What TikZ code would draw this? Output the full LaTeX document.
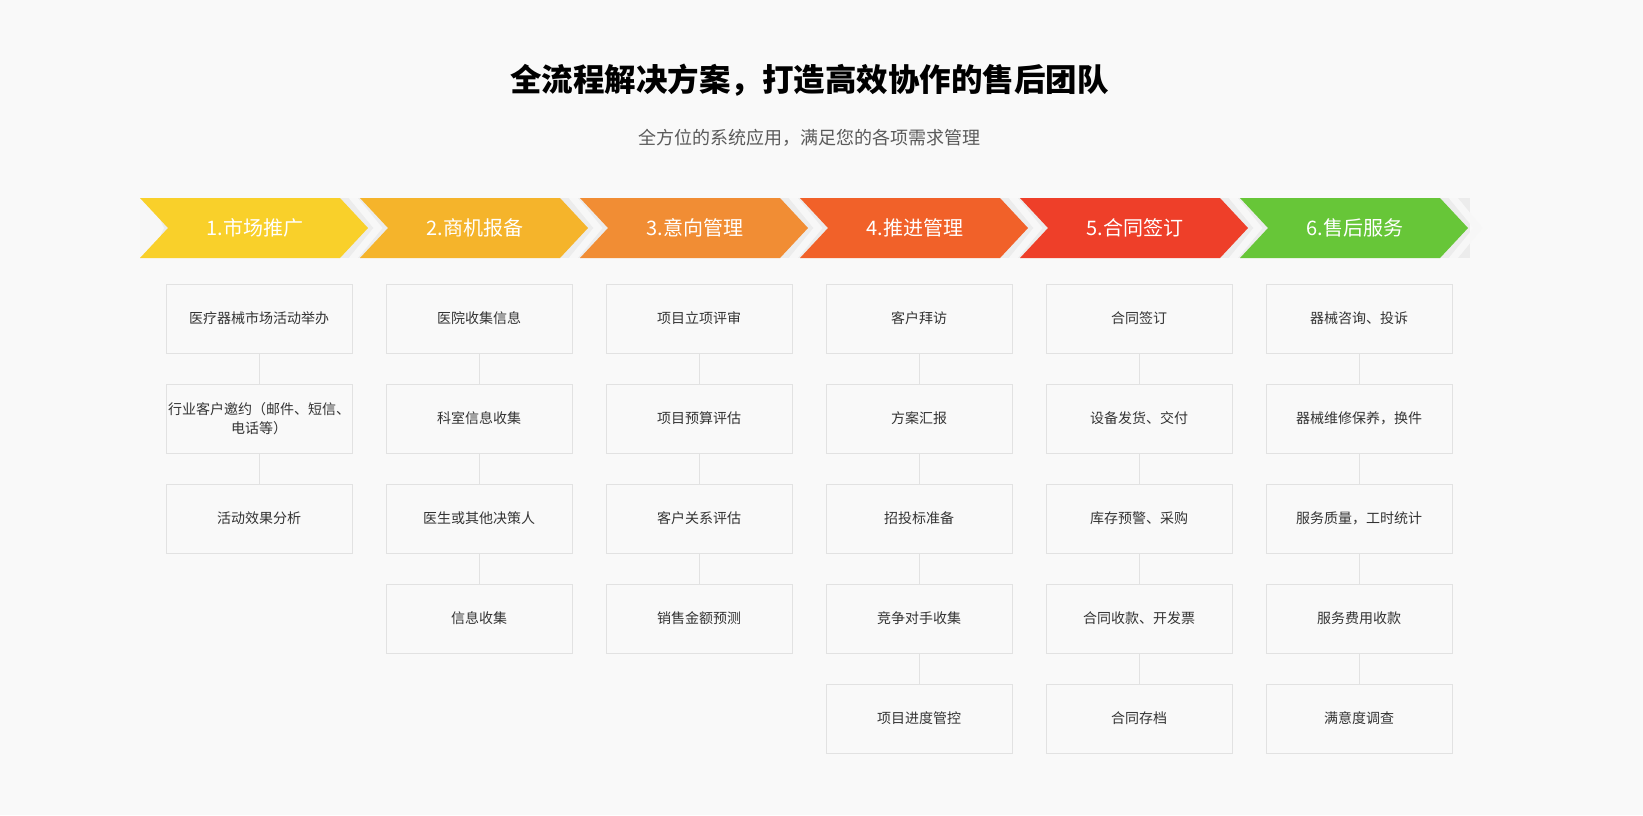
\documentclass[tikz,border=0pt]{standalone}
\usepackage{fontspec}
\setmainfont{Noto Sans CJK SC}
\definecolor{bgc}{HTML}{F9F9F9}
\definecolor{stripc}{HTML}{ECECEC}
\definecolor{stripl}{HTML}{F7F7F7}
\definecolor{c1}{HTML}{F9D02A}
\definecolor{c2}{HTML}{F5B42B}
\definecolor{c3}{HTML}{F18D34}
\definecolor{c4}{HTML}{F16129}
\definecolor{c5}{HTML}{EE3F29}
\definecolor{c6}{HTML}{67C638}
\definecolor{boxline}{HTML}{E2E2E2}
\definecolor{boxtext}{HTML}{333333}
\definecolor{subc}{HTML}{5A5A5A}
\tikzset{
  itembox/.style={draw=boxline, line width=1pt, minimum width=186pt, minimum height=69pt,
    inner sep=0pt, align=center, text=boxtext, font=\fontsize{14}{19.5}\selectfont},
  conn/.style={draw=boxline, line width=1pt},
  steplabel/.style={text=white, font=\fontsize{20}{24}\selectfont, inner sep=0pt},
}
\newcommand\colboxes[2]{%
  \foreach \t [count=\r, remember=\r as \p (initially 0)] in {#2} {
    \node[itembox] (b#1-\r) at ({140+(#1-1)*220+119}, {318.5+(\r-1)*100}) {\t};
    \ifnum\r>1 \draw[conn] (b#1-\p.south) -- (b#1-\r.north); \fi
  }%
}
\newcommand\chev[3]{% index, color, label
  \pgfmathsetmacro\xo{140+(#1-1)*220}
  \fill[#2] (\xo,198) -- ({\xo+200},198) -- ({\xo+228},228) -- ({\xo+200},258) -- (\xo,258) -- ({\xo+28},228) -- cycle;
  \node[steplabel] (s#1) at ({\xo+115},228) {#3};
}
\begin{document}
\begin{tikzpicture}[x=1pt, y=-1pt]
\fill[bgc] (0,0) rectangle (1643,815);
\useasboundingbox (0,0) rectangle (1643,815);
\node[font=\fontsize{31.5}{36}\selectfont\bfseries, text=black, inner sep=0pt] (title) at (809.5,80) {全流程解决方案，打造高效协作的售后团队};
\node[font=\fontsize{18}{22}\selectfont, text=subc, inner sep=0pt] (subtitle) at (809,138) {全方位的系统应用，满足您的各项需求管理};
% strip behind chevrons
\fill[stripc] (140,198) rectangle (1470,258);
\foreach \i in {0,...,5} {
  \draw[stripl, line width=7pt] ({140+\i*220+210},194) -- ({140+\i*220+238},228) -- ({140+\i*220+210},262);
}
\fill[stripl] (140,198) -- (150,198) -- (164,228) -- (150,258) -- (140,258) -- cycle;
\fill[bgc] (130,190) rectangle (1480,198);
\fill[bgc] (130,258) rectangle (1480,266);
\chev{1}{c1}{1.市场推广}
\chev{2}{c2}{2.商机报备}
\chev{3}{c3}{3.意向管理}
\chev{4}{c4}{4.推进管理}
\chev{5}{c5}{5.合同签订}
\chev{6}{c6}{6.售后服务}
\colboxes{1}{医疗器械市场活动举办, {行业客户邀约（邮件、短信、\\电话等）}, 活动效果分析}
\colboxes{2}{医院收集信息, 科室信息收集, 医生或其他决策人, 信息收集}
\colboxes{3}{项目立项评审, 项目预算评估, 客户关系评估, 销售金额预测}
\colboxes{4}{客户拜访, 方案汇报, 招投标准备, 竞争对手收集, 项目进度管控}
\colboxes{5}{合同签订, 设备发货、交付, 库存预警、采购, 合同收款、开发票, 合同存档}
\colboxes{6}{器械咨询、投诉, 器械维修保养，换件, 服务质量，工时统计, 服务费用收款, 满意度调查}
\end{tikzpicture}
\end{document}
